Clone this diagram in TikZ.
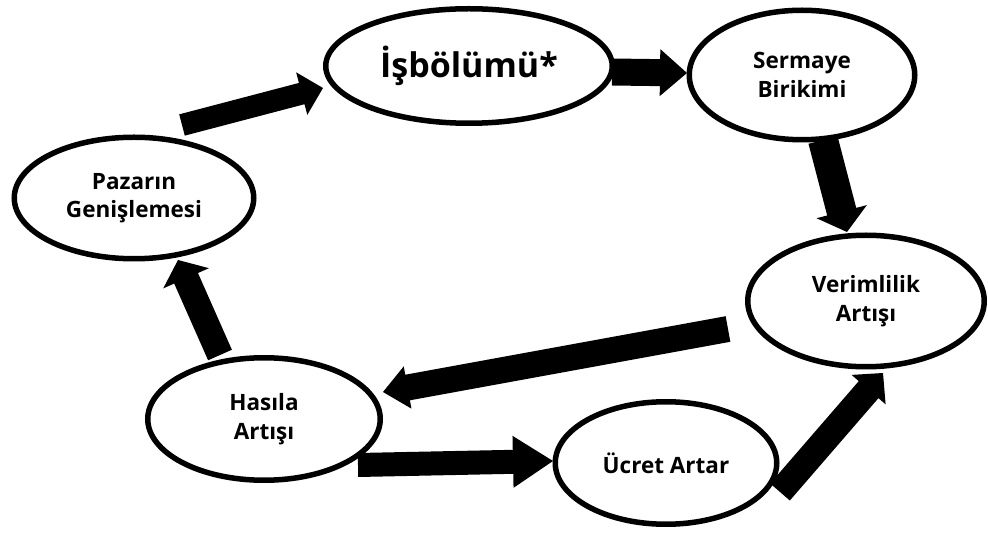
\documentclass[tikz,border=0pt]{standalone}
\usepackage{fontspec}
\setmainfont{Open Sans}
\usetikzlibrary{shapes.geometric,calc,backgrounds}
\newcommand{\blockarr}[5]{%
  \path ($(#2)!#5!(#1)$) coordinate (bb);
  \fill[black] ($(#1)!#3!90:(#2)$) -- ($(bb)!#3!90:(#2)$) -- ($(bb)!#4!90:(#2)$) -- (#2)
    -- ($(bb)!#4!-90:(#2)$) -- ($(bb)!#3!-90:(#2)$) -- ($(#1)!#3!-90:(#2)$) -- cycle;}
\tikzset{
  oval/.style={ellipse, draw=black, fill=white, line width=5.5pt, inner sep=0pt,
    align=center, font=\bfseries\fontsize{22.5}{28.6}\selectfont, text=black},
}
\begin{document}
\begin{tikzpicture}[x=1pt,y=-1pt]
\useasboundingbox (0,0) rectangle (988,534);
% nodes
\node[oval, minimum width=286.5pt, minimum height=114.5pt,
  font=\bfseries\fontsize{34}{38}\selectfont] (isb) at (469,66) {İşbölümü*};
\node[oval, minimum width=225.5pt, minimum height=129.5pt] (ser) at (802,75) {Sermaye\\Birikimi};
\node[oval, minimum width=239.5pt, minimum height=121.5pt] (paz) at (134,198) {Pazarın\\Genişlemesi};
\node[oval, minimum width=236.5pt, minimum height=131.5pt] (ver) at (866,301) {Verimlilik\\Artışı};
\node[oval, minimum width=232.5pt, minimum height=122.5pt] (has) at (264,419) {Hasıla\\Artışı};
\node[oval, minimum width=221.5pt, minimum height=122.5pt] (ucr) at (666,463) {Ücret Artar};
% connector end points
\coordinate (pazT) at (182,125); \coordinate (isbH) at (323,88);
\coordinate (isbT) at (612,72);  \coordinate (serH) at (687,73);
\coordinate (serT) at (823,140); \coordinate (verH) at (847,232);
\coordinate (verT) at (728,329); \coordinate (hasH) at (383,392);
\coordinate (hasT) at (220,355); \coordinate (pazH) at (178,260);
\coordinate (hasT2) at (358,465); \coordinate (ucrH) at (553,461);
\coordinate (ucrT) at (780,492); \coordinate (verH2) at (883,373);
\begin{scope}[on background layer]
\blockarr{pazT}{isbH}{11pt}{22pt}{22pt}
\blockarr{isbT}{serH}{13.5pt}{23.5pt}{27pt}
\blockarr{serT}{verH}{15pt}{26pt}{21pt}
\blockarr{verT}{hasH}{13pt}{21.5pt}{25pt}
\blockarr{hasT}{pazH}{13pt}{25pt}{20pt}
\blockarr{hasT2}{ucrH}{12pt}{26pt}{40pt}
\blockarr{ucrT}{verH2}{13pt}{22.5pt}{22pt}
\end{scope}
\end{tikzpicture}
\end{document}
